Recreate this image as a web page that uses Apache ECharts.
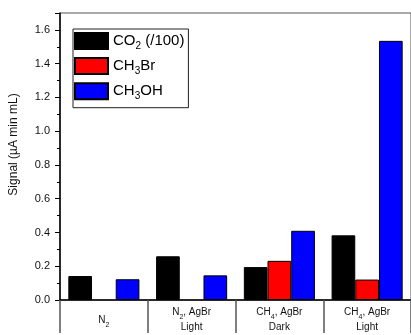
<!DOCTYPE html>
<html>
<head>
<meta charset="utf-8">
<script src="https://cdn.jsdelivr.net/npm/echarts@6/dist/echarts.min.js"></script>
<style>
  html, body { margin: 0; padding: 0; background: #fff; }
  #chart { width: 411px; height: 335px; }
</style>
</head>
<body>
<div id="chart"></div>
<script>
// Sample conditions (rich-text tags render the subscripts)
const categories = [
  'N{sub|2}',
  'N{sub|2}, AgBr\nLight',
  'CH{sub|4}, AgBr\nDark',
  'CH{sub|4}, AgBr\nLight'
];
// Detected signal (µA min mL) per product
const seriesNames = ['CO2 (/100)', 'CH3Br', 'CH3OH'];
const legendLabels = ['CO{lsub|2} (/100)', 'CH{lsub|3}Br', 'CH{lsub|3}OH'];
const co2 = [0.142, 0.259, 0.195, 0.383];
const ch3br = [null, null, 0.232, 0.121];
const ch3oh = [0.123, 0.146, 0.41, 1.535];
const yTicks = [0, 0.2, 0.4, 0.6, 0.8, 1.0, 1.2, 1.4, 1.6];
const colors = ['#000000', '#ff0000', '#0000ff'];

const font = '"Liberation Sans", Arial, sans-serif';
const chart = echarts.init(document.getElementById('chart'), null, { renderer: 'canvas' });

const values = [co2, ch3br, ch3oh];
const series = seriesNames.map((name, i) => ({
  name,
  type: 'bar',
  data: values[i],
  barGap: '0%',
  barCategoryGap: '19%',
  itemStyle: { color: colors[i], borderColor: '#000', borderWidth: 1 }
}));

chart.setOption({
  animation: false,
  textStyle: { fontFamily: font },
  grid: {
    left: 55, top: 13, width: 362, height: 290,
    show: true, borderColor: '#555', borderWidth: 1
  },
  legend: {
    orient: 'vertical',
    left: 73, top: 29,
    itemWidth: 33, itemHeight: 16, itemGap: 5.6,
    padding: [3, 4, 6, 1],
    borderColor: '#222', borderWidth: 1,
    icon: 'rect',
    data: seriesNames,
    formatter: name => legendLabels[seriesNames.indexOf(name)],
    textStyle: {
      fontFamily: font, fontSize: 15, color: '#000',
      rich: {
        lsub: { fontSize: 10, fontFamily: font, color: '#000', verticalAlign: 'bottom', padding: [0, 0, -3, 0] }
      }
    }
  },
  xAxis: {
    type: 'category',
    data: categories,
    axisLine: { lineStyle: { color: '#000', width: 1.5 } },
    axisTick: { show: true, length: 33, alignWithLabel: false, lineStyle: { color: '#555', width: 1.5 } },
    axisLabel: {
      fontFamily: font, fontSize: 10, color: '#111', lineHeight: 15,
      margin: 20, verticalAlign: 'middle',
      interval: 0,
      rich: {
        sub: { fontSize: 7, fontFamily: font, color: '#111', verticalAlign: 'bottom', padding: [0, 0, -1, 0] }
      }
    }
  },
  yAxis: {
    type: 'value',
    min: 0, max: 1.7, interval: 0.2,
    name: 'Signal (\u00b5A min mL)',
    nameLocation: 'middle',
    nameGap: 40,
    nameTextStyle: { fontFamily: font, fontSize: 12, color: '#111', padding: [0, 0, 0, 24] },
    axisLine: { show: true, lineStyle: { color: '#000', width: 1.5 } },
    axisTick: { show: true, length: 5, lineStyle: { color: '#000' } },
    minorTick: { show: true, splitNumber: 2, length: 3, lineStyle: { color: '#000' } },
    splitLine: { show: false },
    axisLabel: {
      fontFamily: font, fontSize: 11, color: '#111', margin: 10,
      showMaxLabel: false,
      formatter: v => yTicks.some(t => Math.abs(t - v) < 1e-9) ? v.toFixed(1) : ''
    }
  },
  series
});
</script>
</body>
</html>
